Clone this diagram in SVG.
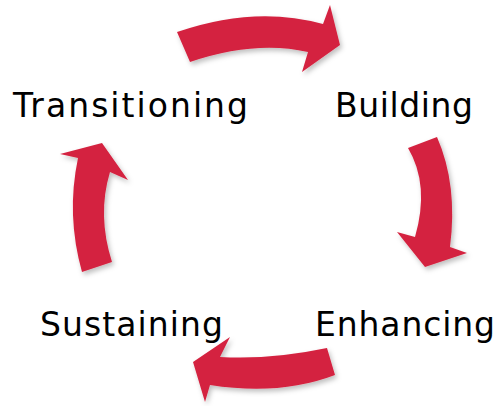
<svg xmlns="http://www.w3.org/2000/svg" width="500" height="406" viewBox="0 0 500 406">
<defs>
<filter id="sh" x="-20%" y="-20%" width="140%" height="140%">
<feDropShadow dx="2" dy="3" stdDeviation="2.5" flood-color="#000" flood-opacity="0.25"/>
</filter>
</defs>
<style>
.lbl{font-family:"DejaVu Sans","Liberation Sans",sans-serif;font-size:33px;fill:#000}
.arr{fill:#d42440;filter:url(#sh)}
</style>
<g id="connectors">
<path class="arr" d="M177,32 Q255,5 323,24 L330,5 L340,45 L302,72 L308,52 Q255,40 190,62 Z"/>
<path class="arr" d="M408,148 L437,137 Q458,185 450,247 L467,253 L425,267 L397,232 L415,237 Q430,185 408,148 Z"/>
<path class="arr" d="M327,348 Q270,360 220,357 L230,337 L193,362 L205,402 L210,385 Q280,396 335,375 Z"/>
<path class="arr" d="M82,272 Q66,215 78,158 L60,154 L102,143 L128,180 L110,172 Q97,215 112,262 Z"/>
</g>
<g id="transitioning"><text class="lbl" x="13" y="117" textLength="235" lengthAdjust="spacing">Transitioning</text></g>
<g id="building"><text class="lbl" x="335" y="117" textLength="138" lengthAdjust="spacing">Building</text></g>
<g id="sustaining"><text class="lbl" x="40" y="336" textLength="183" lengthAdjust="spacing">Sustaining</text></g>
<g id="enhancing"><text class="lbl" x="315" y="336" textLength="180" lengthAdjust="spacing">Enhancing</text></g>
</svg>
